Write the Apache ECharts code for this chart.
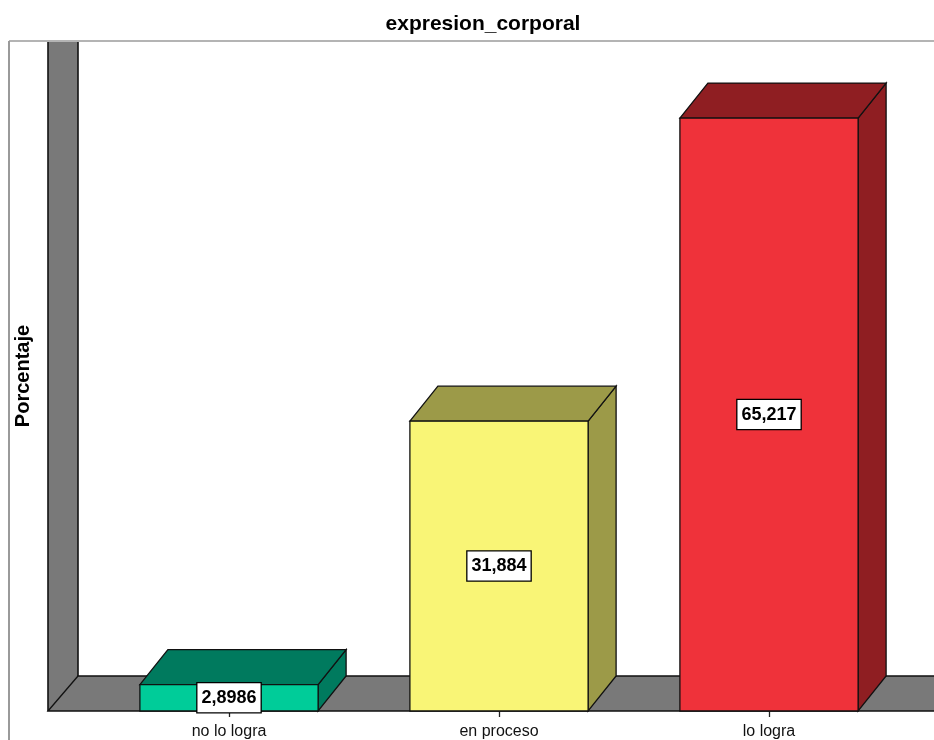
<!DOCTYPE html>
<html>
<head>
<meta charset="utf-8">
<title>expresion_corporal</title>
<script src="https://cdn.jsdelivr.net/npm/echarts@6/dist/echarts.min.js"></script>
<style>
  html, body { margin: 0; padding: 0; background: #fff; }
  #chart { width: 934px; height: 740px; }
</style>
</head>
<body>
<div id="chart"></div>
<script>
// datos
const categories = ['no lo logra', 'en proceso', 'lo logra']
const percentages = [2.8986, 31.884, 65.217]
const frontColors = ['#00cc99', '#f9f576', '#ef323a']
const darkColors = ['#007a5e', '#9c9a48', '#8f1e22']

// profundidad del efecto 3D
const DX = 28
const DY = 35

// area del grafico
const G = { left: 94, right: 30, top: 41, bottom: 29 }
const W = 934
const H = 740
const floorY = H - G.bottom
const wallX = 48

const chart = echarts.init(document.getElementById('chart'))

const fmt = v => String(v).replace('.', ',')

const renderBar = (params, api) => {
  const idx = params.dataIndex
  const base = api.coord([api.value(0), 0])
  const top = api.coord([api.value(0), api.value(1)])
  const bw = api.size([1, 0])[0] * 0.66
  const x0 = top[0] - bw / 2
  const x1 = top[0] + bw / 2
  const y0 = top[1]
  const y1 = base[1]
  const line = { stroke: '#111', lineWidth: 1.3 }
  return {
    type: 'group',
    children: [
      {
        type: 'polygon',
        shape: { points: [[x1, y0], [x1 + DX, y0 - DY], [x1 + DX, y1 - DY], [x1, y1]] },
        style: Object.assign({ fill: darkColors[idx] }, line)
      },
      {
        type: 'polygon',
        shape: { points: [[x0, y0], [x0 + DX, y0 - DY], [x1 + DX, y0 - DY], [x1, y0]] },
        style: Object.assign({ fill: darkColors[idx] }, line)
      },
      {
        type: 'rect',
        shape: { x: x0, y: y0, width: bw, height: y1 - y0 },
        style: Object.assign({ fill: frontColors[idx] }, line)
      },
      {
        type: 'text',
        x: top[0],
        y: (y0 + y1) / 2,
        style: {
          text: fmt(api.value(1)),
          align: 'center',
          verticalAlign: 'middle',
          font: 'bold 18px Arial, "Liberation Sans", sans-serif',
          fill: '#000',
          backgroundColor: '#fff',
          borderColor: '#000',
          borderWidth: 1.3,
          padding: [6, 4, 5, 4]
        }
      }
    ]
  }
}

const line = { stroke: '#111', lineWidth: 1.3 }

const option = {
  animation: false,
  title: {
    text: 'expresion_corporal',
    left: 478,
    top: 9,
    textAlign: 'center',
    textStyle: { fontSize: 21, fontWeight: 'bold', color: '#000', fontFamily: 'Arial' }
  },
  grid: G,
  graphic: [
    // pared izquierda (sin borde superior, queda bajo el marco)
    {
      type: 'polygon',
      shape: { points: [[wallX, G.top], [wallX + DX + 2, G.top], [wallX + DX + 2, floorY - DY], [wallX, floorY]] },
      style: { fill: '#797979' },
      z: -6
    },
    { type: 'polyline', shape: { points: [[wallX, G.top], [wallX, floorY]] }, style: { stroke: '#111', lineWidth: 1.6 }, z: -5 },
    { type: 'polyline', shape: { points: [[wallX + DX + 2, G.top], [wallX + DX + 2, floorY - DY]] }, style: { stroke: '#111', lineWidth: 1.6 }, z: -5 },
    // piso
    {
      type: 'polygon',
      shape: { points: [[wallX, floorY], [wallX + DX + 2, floorY - DY], [W + 5, floorY - DY], [W + 5, floorY]] },
      style: Object.assign({ fill: '#797979' }, line),
      z: -5
    },
    // marco exterior
    { type: 'line', shape: { x1: 9, y1: 41, x2: W, y2: 41 }, style: { stroke: '#b4b4b4', lineWidth: 2 }, z: -4 },
    { type: 'line', shape: { x1: 9, y1: 41, x2: 9, y2: H }, style: { stroke: '#9a9a9a', lineWidth: 2 }, z: -4 }
  ],
  xAxis: {
    type: 'category',
    data: categories,
    axisLine: { show: false },
    axisTick: { show: true, alignWithLabel: true, length: 6, lineStyle: { color: '#222', width: 1.3 } },
    axisLabel: { fontSize: 16, color: '#111', margin: 13, fontFamily: 'Arial' },
    splitLine: { show: false }
  },
  yAxis: {
    type: 'value',
    min: 0,
    max: 73.7,
    name: 'Porcentaje',
    nameLocation: 'middle',
    nameRotate: 90,
    nameGap: 61,
    nameTextStyle: { fontSize: 20, fontWeight: 'bold', color: '#000', fontFamily: 'Arial' },
    axisLine: { show: false },
    axisTick: { show: false },
    axisLabel: { show: false },
    splitLine: { show: false }
  },
  series: [
    {
      type: 'custom',
      renderItem: renderBar,
      clip: false,
      encode: { x: 0, y: 1 },
      data: percentages.map((v, i) => [i, v])
    }
  ]
}

chart.setOption(option)
</script>
</body>
</html>
